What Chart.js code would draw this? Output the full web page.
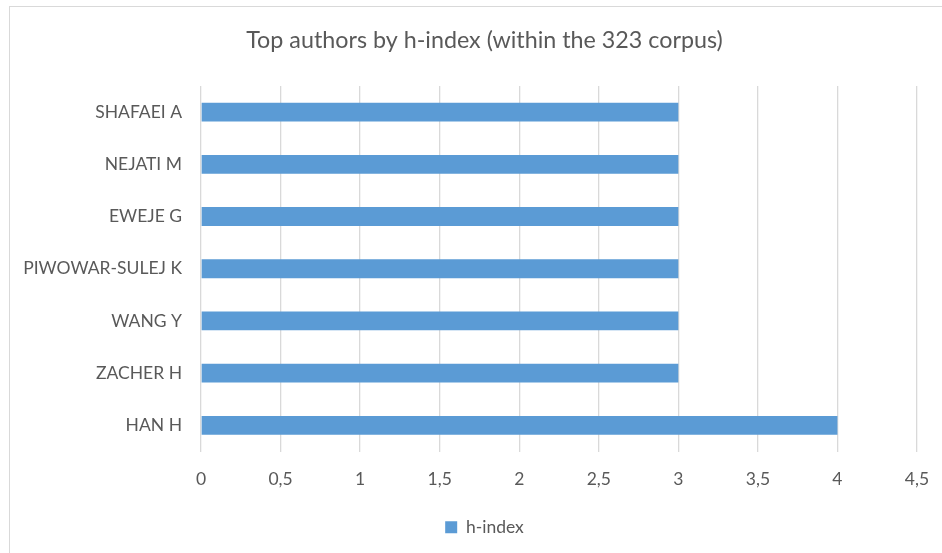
<!DOCTYPE html>
<html>
<head>
<meta charset="utf-8">
<script src="https://cdn.jsdelivr.net/npm/chart.js@4/dist/chart.umd.min.js"></script>
<style>
    html, body { margin: 0; padding: 0; background: #fff; }
    #wrap { position: relative; width: 942px; height: 553px; overflow: hidden; }
    #frame { position: absolute; left: 9px; top: 6px; width: 960px; height: 600px; border: 1px solid #d9d9d9; box-sizing: border-box; }
    #chartHIndex { position: absolute; left: 0; top: 0; }
</style>
</head>
<body>
<div id="wrap">
    <div id="frame"></div>
    <canvas id="chartHIndex" width="942" height="553"></canvas>
</div>
<script>
// Autores y su h-index (orden de arriba hacia abajo)
const autores = ['SHAFAEI A', 'NEJATI M', 'EWEJE G', 'PIWOWAR-SULEJ K', 'WANG Y', 'ZACHER H', 'HAN H'];
const valoresHIndex = [3, 3, 3, 3, 3, 3, 4];
const etiquetaSerie = 'h-index';
const tituloGrafico = 'Top authors by h-index (within the 323 corpus)';

const gris = '#595959';
const azul = '#5b9bd5';
const fuente = 'Lato, "Open Sans", sans-serif';

Chart.defaults.font.family = fuente;
Chart.defaults.color = gris;

// El título y la leyenda se centran sobre todo el marco, no sobre el área del eje
const centrarBloques = {
    id: 'centrarBloques',
    afterLayout: function(chart) {
        const desplazamiento = 26;
        [chart.titleBlock, chart.legend].forEach(function(bloque) {
            if (bloque) {
                bloque.left += desplazamiento;
                bloque.right += desplazamiento;
            }
        });
    }
};

const ctx = document.getElementById('chartHIndex');
new Chart(ctx, {
    type: 'bar',
    data: {
        labels: autores,
        datasets: [{
            label: etiquetaSerie,
            data: valoresHIndex,
            backgroundColor: azul,
            borderWidth: 0,
            categoryPercentage: 1,
            barPercentage: 0.36
        }]
    },
    options: {
        indexAxis: 'y', // barras horizontales
        responsive: false,
        animation: false,
        layout: {
            padding: { top: 0, right: 25, bottom: 7, left: 0 }
        },
        scales: {
            x: {
                min: 0,
                max: 4.5,
                ticks: {
                    stepSize: 0.5,
                    padding: 17,
                    font: { size: 17.5 },
                    color: gris,
                    callback: function(value) {
                        return String(value).replace('.', ',');
                    }
                },
                grid: { color: '#d9d9d9', lineWidth: 1.3, drawTicks: false },
                border: { display: false },
                afterFit: function(scale) {
                    scale.height = 57;
                    // sin margen extra por la última etiqueta
                    scale.paddingLeft = 0;
                    scale.paddingRight = 0;
                }
            },
            y: {
                ticks: {
                    padding: 19,
                    font: { size: 17.5 },
                    color: gris
                },
                grid: { display: false, drawTicks: false },
                border: { display: false },
                afterFit: function(scale) { scale.width = 201; }
            }
        },
        plugins: {
            title: {
                display: true,
                text: tituloGrafico,
                color: gris,
                font: { size: 23.3, weight: 'normal' },
                padding: { top: 26, bottom: 32 }
            },
            legend: {
                position: 'bottom',
                labels: {
                    boxWidth: 12,
                    boxHeight: 12,
                    padding: 10,
                    color: gris,
                    font: { size: 17.5 }
                }
            },
            tooltip: { enabled: false }
        }
    },
    plugins: [centrarBloques]
});
</script>
</body>
</html>
